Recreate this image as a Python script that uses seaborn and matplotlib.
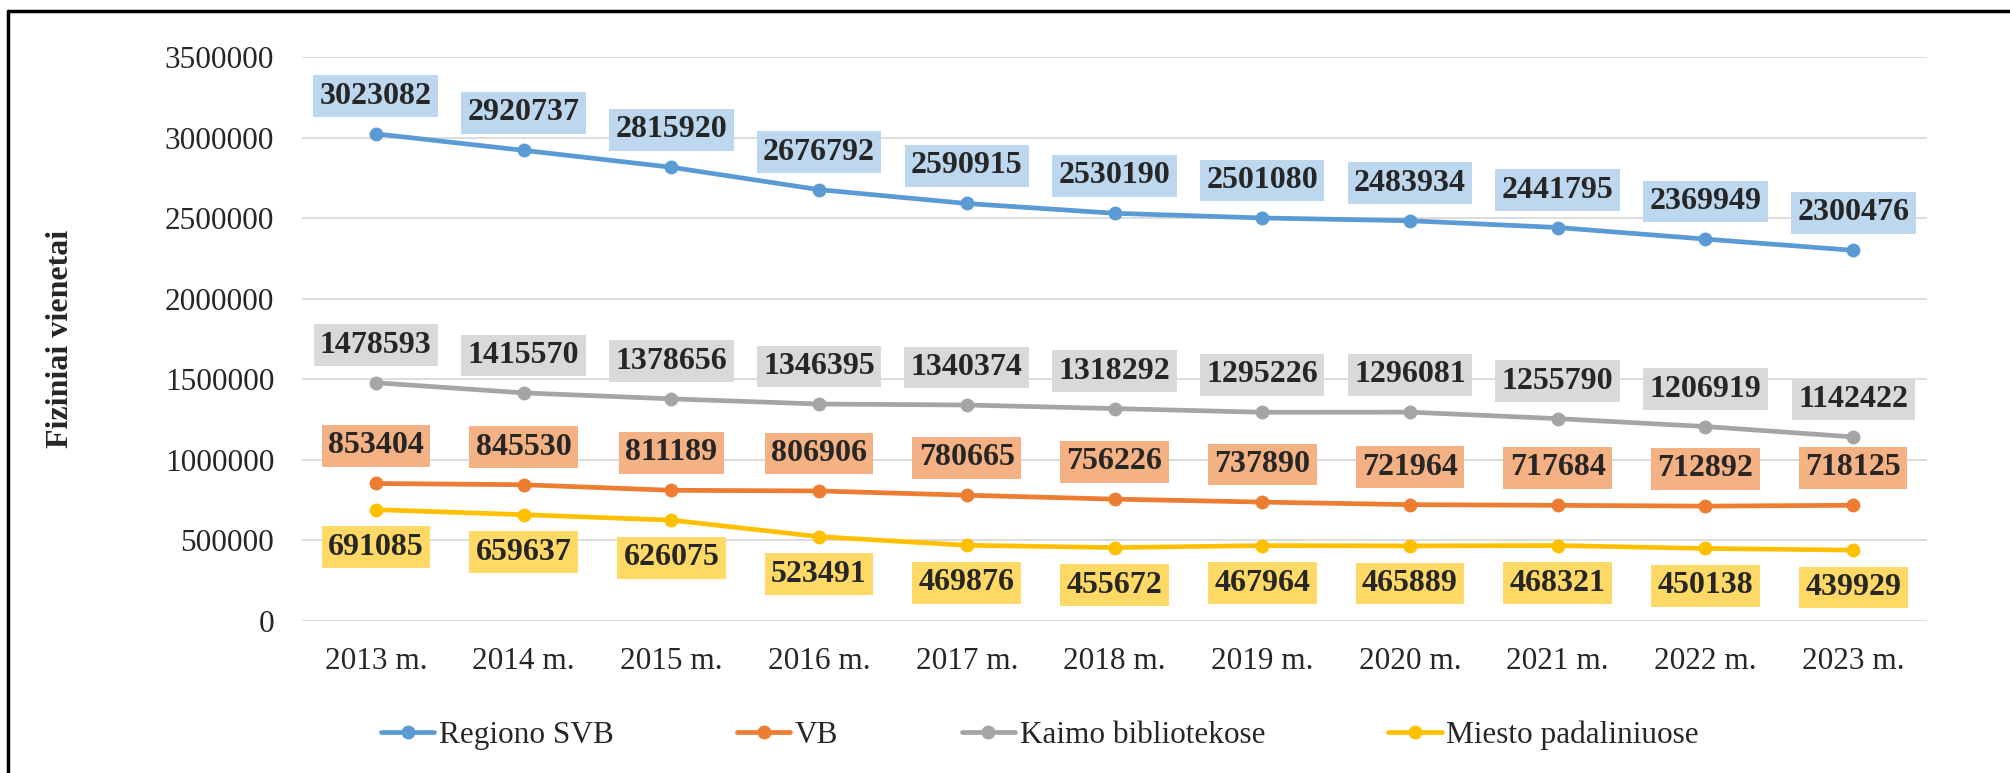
import seaborn as sns
import matplotlib.pyplot as plt
import matplotlib.lines as mlines
import numpy as np
import pandas as pd

years = ["2013 m.", "2014 m.", "2015 m.", "2016 m.", "2017 m.", "2018 m.",
         "2019 m.", "2020 m.", "2021 m.", "2022 m.", "2023 m."]
regiono_svb = [3023082, 2920737, 2815920, 2676792, 2590915, 2530190,
               2501080, 2483934, 2441795, 2369949, 2300476]
vb = [853404, 845530, 811189, 806906, 780665, 756226,
      737890, 721964, 717684, 712892, 718125]
kaimo = [1478593, 1415570, 1378656, 1346395, 1340374, 1318292,
         1295226, 1296081, 1255790, 1206919, 1142422]
miesto = [691085, 659637, 626075, 523491, 469876, 455672,
          467964, 465889, 468321, 450138, 439929]
series_names = ["Regiono SVB", "VB", "Kaimo bibliotekose", "Miesto padaliniuose"]

colors = ["#5B9BD5", "#ED7D31", "#A5A5A5", "#FFC000"]
box_colors = ["#BDD7EE", "#F4B183", "#D9D9D9", "#FFD966"]
offsets = [27, 27, 27, -27]  # label offset in points (above / below)

sns.set_style("white")
plt.rcParams["font.family"] = ["Liberation Serif", "DejaVu Serif"]

rows = []
for name, vals in zip(series_names, [regiono_svb, vb, kaimo, miesto]):
    for i, v in enumerate(vals):
        rows.append({"x": i, "value": v, "series": name})
df = pd.DataFrame(rows)

fig = plt.figure(figsize=(20.1, 7.73), dpi=100)
ax = fig.add_axes([302 / 2010, 1 - 621 / 773, 1625 / 2010, 564 / 773])

sns.lineplot(data=df, x="x", y="value", hue="series", hue_order=series_names,
             palette=colors, marker="o", markersize=10, markeredgewidth=0,
             linewidth=3.4, sort=False, ax=ax, legend=True, zorder=3)

for name, vals, bc, off in zip(series_names, [regiono_svb, vb, kaimo, miesto],
                               box_colors, offsets):
    for i, v in enumerate(vals):
        ax.annotate(str(v), (i, v), xytext=(0, off), textcoords="offset points",
                    ha="center", va="center", fontsize=23, fontweight="bold",
                    bbox=dict(boxstyle="square,pad=0.2", fc=bc, ec="none"),
                    zorder=4)

ax.set_xlim(-0.5, len(years) - 0.5)
ax.set_ylim(0, 3500000)
ax.set_yticks(np.arange(0, 3500001, 500000))
ax.set_yticklabels([str(v) for v in range(0, 3500001, 500000)])
ax.set_xticks(range(len(years)))
ax.set_xticklabels(years)
ax.tick_params(axis="both", labelsize=22.5, length=0)
ax.tick_params(axis="y", pad=20)
ax.tick_params(axis="x", pad=19)
ax.grid(axis="y", color="#D9D9D9", linewidth=1.3, zorder=0)
ax.set_axisbelow(True)
for s in ax.spines.values():
    s.set_visible(False)

ax.set_xlabel("")
ax.set_ylabel("Fiziniai vienetai", fontsize=23, fontweight="bold")
ax.yaxis.set_label_coords(-(302 - 75) / 1625, 0.5)

handles, labels = ax.get_legend_handles_labels()
ax.legend(handles, labels, loc="center", bbox_to_anchor=(1040 / 2010, 38 / 773),
          bbox_transform=fig.transFigure, ncol=4, frameon=False, fontsize=22.5,
          handlelength=1.7, handletextpad=0.15, columnspacing=3.95)

# outer frame (top and left edges)
fig.add_artist(mlines.Line2D([8 / 2010, 1], [1 - 11 / 773, 1 - 11 / 773],
                             transform=fig.transFigure, color="black", lw=2.5))
fig.add_artist(mlines.Line2D([8 / 2010, 8 / 2010], [0, 1 - 11 / 773],
                             transform=fig.transFigure, color="black", lw=2.5))

fig.savefig("out.png", dpi=100)
